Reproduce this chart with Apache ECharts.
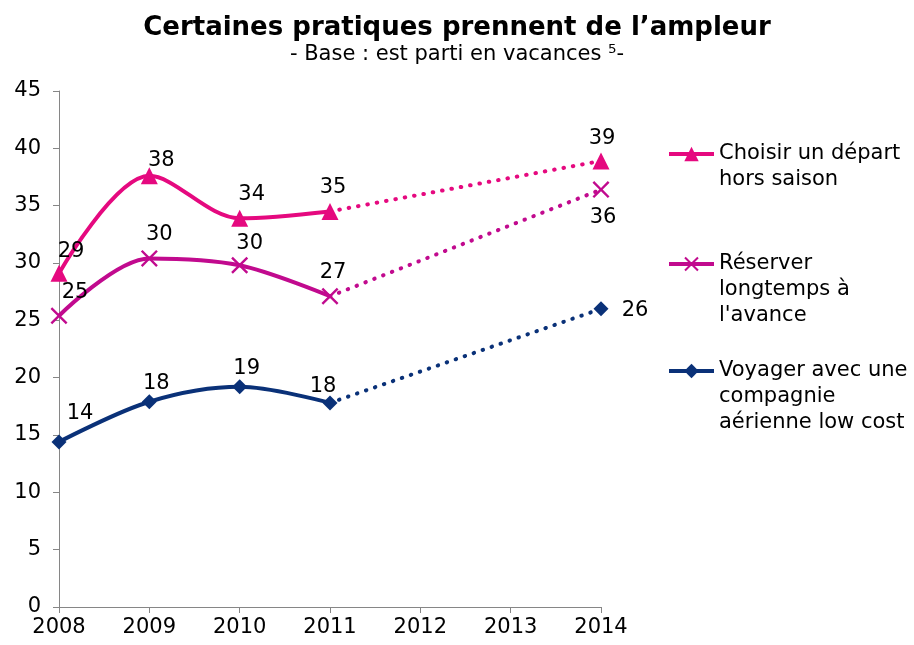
<!DOCTYPE html>
<html>
<head>
<meta charset="utf-8">
<script src="https://cdn.jsdelivr.net/npm/echarts@6/dist/echarts.min.js"></script>
<style>
  html, body { margin: 0; padding: 0; background: #fff; }
  #main { width: 914px; height: 645px; }
</style>
</head>
<body>
<div id="main"></div>
<script>
  var years = ['2008', '2009', '2010', '2011', '2012', '2013', '2014'];
  // valeurs mesurées 2008-2011 puis 2014
  var horsSaison = [29.1, 37.6, 33.9, 34.5, null, null, 38.9];
  var avance = [25.4, 30.4, 29.8, 27.1, null, null, 36.4];
  var lowCost = [14.4, 17.9, 19.2, 17.8, null, null, 26.0];
  // libellés affichés (arrondis)
  var lblHorsSaison = ['29', '38', '34', '35', '', '', '39'];
  var lblAvance = ['25', '30', '30', '27', '', '', '36'];
  var lblLowCost = ['14', '18', '19', '18', '', '', '26'];
  var names = ['Choisir un départ\nhors saison', 'Réserver\nlongtemps à\nl\'avance', 'Voyager avec une\ncompagnie\naérienne low cost'];
  var colors = ['#E5097F', '#C10A8E', '#0A3178'];

  var font = 'DejaVu Sans';
  var crossPath = 'path://M0,1L1,0L5,4L9,0L10,1L6,5L10,9L9,10L5,6L1,10L0,9L4,5Z';

  // position des étiquettes par point
  var posHS = [[12, -22], [12, -15], [12, -24], [3, -24], null, null, [1, -22]];
  var posAV = [[16, -23], [10, -24], [10, -22], [3, -24], null, null, [2, 28]];
  var posLC = [[21, -28], [7, -18], [7, -18], [-7, -16], null, null, [34, 2]];

  function solid(vals, lbls, pos) {
    var out = [];
    for (var i = 0; i < vals.length; i++) {
      if (i > 3) { out.push(null); continue; }
      out.push({ value: vals[i], label: { formatter: lbls[i], offset: pos[i] } });
    }
    return out;
  }
  function dotted(vals, lbls, pos) {
    var out = [];
    for (var i = 0; i < vals.length; i++) {
      if (i == 3) out.push({ value: vals[i], symbol: 'none', label: { show: false } });
      else if (i == 6) out.push({ value: vals[i], label: { formatter: lbls[i], offset: pos[i] } });
      else out.push(null);
    }
    return out;
  }

  var lbl = { show: true, position: 'inside', color: '#000', fontSize: 21, fontFamily: font };

  function mkSeries(name, vals, lbls, pos, color, symbol, size) {
    return [{
      name: name, type: 'line', smooth: 0.33, data: solid(vals, lbls, pos),
      symbol: symbol, symbolSize: size, showAllSymbol: true,
      lineStyle: { color: color, width: 4 }, itemStyle: { color: color },
      label: lbl, z: 3
    }, {
      name: name + '_p', type: 'line', connectNulls: true, data: dotted(vals, lbls, pos),
      symbol: symbol, symbolSize: size,
      lineStyle: { color: color, width: 4, type: [0.5, 9], cap: 'round' }, itemStyle: { color: color },
      label: lbl, z: 2
    }];
  }

  var series = [].concat(
    mkSeries(names[0], horsSaison, lblHorsSaison, posHS, colors[0], 'triangle', 17),
    mkSeries(names[1], avance, lblAvance, posAV, colors[1], crossPath, 17),
    mkSeries(names[2], lowCost, lblLowCost, posLC, colors[2], 'diamond', 15)
  );

  // icône alignée sur la première ligne : lignes vides ajoutées en tête
  function mkLegend(name, firstLineY) {
    var n = name.split('\n').length;
    var pre = new Array(n).join('\n');
    return {
      data: [name], left: 667, top: firstLineY - (2 * n - 1) * 13, orient: 'vertical', padding: 0,
      itemWidth: 45, itemHeight: 18, itemGap: 0, selectedMode: false,
      lineStyle: { width: 4 }, itemStyle: {},
      formatter: function (s) { return pre + s; },
      textStyle: { fontSize: 21, fontFamily: font, color: '#000', lineHeight: 26 }
    };
  }

  var myChart = echarts.init(document.getElementById('main'));
  myChart.setOption({
    animation: false,
    title: {
      text: 'Certaines pratiques prennent de l’ampleur',
      subtext: '- Base : est parti en vacances ⁵-',
      left: 'center', top: 10, itemGap: 3,
      textStyle: { fontSize: 26, fontWeight: 'bold', fontFamily: font, color: '#000' },
      subtextStyle: { fontSize: 21, fontFamily: font, color: '#000' }
    },
    legend: [mkLegend(names[0], 154), mkLegend(names[1], 264), mkLegend(names[2], 371)],
    grid: { left: 59, right: 313, top: 91, bottom: 38 },
    xAxis: {
      type: 'category', data: years, boundaryGap: false,
      axisLine: { lineStyle: { color: '#868686', width: 1 } },
      axisTick: { show: true, length: 6, lineStyle: { color: '#868686' } },
      axisLabel: { fontSize: 21, fontFamily: font, color: '#000', margin: 10 }
    },
    yAxis: {
      type: 'value', min: 0, max: 45, interval: 5,
      splitLine: { show: false },
      axisLine: { show: true, lineStyle: { color: '#868686', width: 1 } },
      axisTick: { show: true, length: 6, lineStyle: { color: '#868686' } },
      axisLabel: { fontSize: 21, fontFamily: font, color: '#000', margin: 18 }
    },
    series: series
  });
</script>
</body>
</html>
